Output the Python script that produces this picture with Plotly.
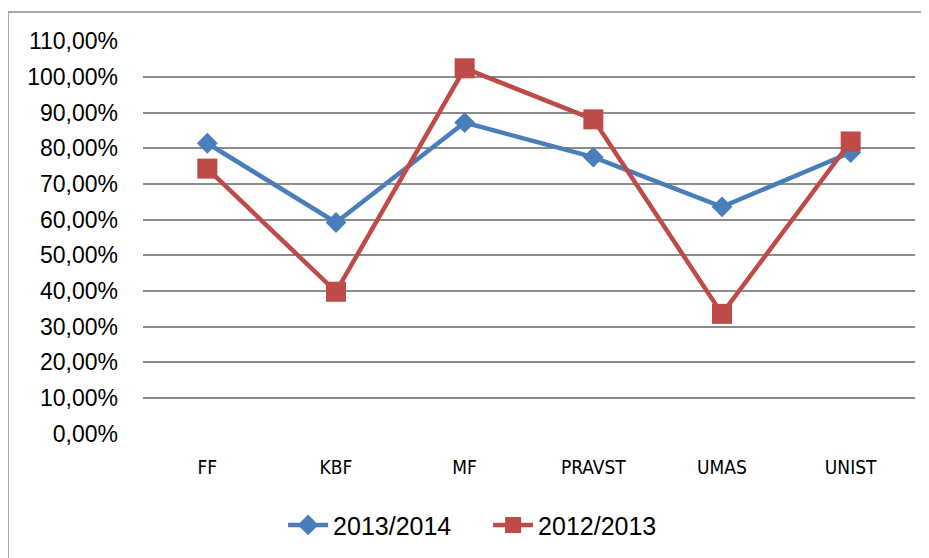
import plotly.graph_objects as go

categories = ["FF", "KBF", "MF", "PRAVST", "UMAS", "UNIST"]
series_2013_2014 = [81.4, 59.2, 87.2, 77.5, 63.6, 78.8]
series_2012_2013 = [74.3, 39.8, 102.4, 88.1, 33.6, 81.9]
y_tick_values = [0, 10, 20, 30, 40, 50, 60, 70, 80, 90, 100, 110]
y_tick_labels = ["0,00%", "10,00%", "20,00%", "30,00%", "40,00%", "50,00%",
                 "60,00%", "70,00%", "80,00%", "90,00%", "100,00%", "110,00%"]

BLUE = "#4A7EBB"
RED = "#BE4B48"

fig = go.Figure()
fig.add_trace(go.Scatter(
    x=categories, y=series_2013_2014, name="2013/2014", mode="lines+markers",
    line=dict(color=BLUE, width=4.5),
    marker=dict(symbol="diamond", size=16, color=BLUE),
))
fig.add_trace(go.Scatter(
    x=categories, y=series_2012_2013, name="2012/2013", mode="lines+markers",
    line=dict(color=RED, width=4.5),
    marker=dict(symbol="square", size=20, color=RED),
))

fig.update_layout(
    width=929, height=558,
    margin=dict(l=135, r=22, t=33, b=132),
    paper_bgcolor="white", plot_bgcolor="white",
    font=dict(family="Liberation Sans, Arial, sans-serif", color="#000000"),
    showlegend=True,
    legend=dict(orientation="h", x=0.447, xanchor="center", y=-0.232, yanchor="middle",
                font=dict(size=25), itemwidth=40, entrywidth=150,
                bgcolor="rgba(0,0,0,0)"),
    xaxis=dict(type="category", range=[-0.5, 5.5], showgrid=False, showline=False,
               ticks="", ticklabelstandoff=20,
               tickfont=dict(family="DejaVu Sans Condensed, Liberation Sans, sans-serif", size=19)),
    yaxis=dict(range=[-0.05, 110.05], tickvals=y_tick_values, ticktext=y_tick_labels,
               showgrid=True, gridcolor="#8C8C8C", gridwidth=1.5, zeroline=False,
               showline=False, ticks="", ticklabelstandoff=24,
               tickfont=dict(size=23)),
    shapes=[dict(type="rect", xref="paper", yref="paper",
                 x0=-0.1749, x1=1.05, y0=-0.4, y1=1.0738,
                 line=dict(color="#8C8C8C", width=1.5), fillcolor="rgba(0,0,0,0)",
                 layer="below")],
)

fig.write_html("out.html")
